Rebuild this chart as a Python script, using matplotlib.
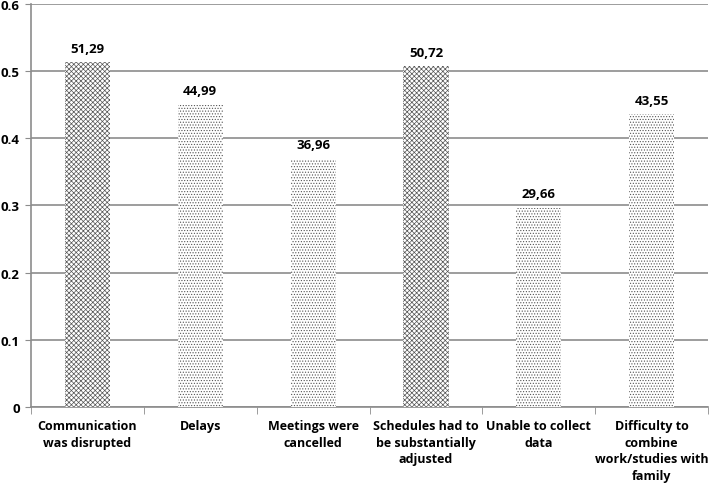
import matplotlib.pyplot as plt
import numpy as np

categories = ["Communication\nwas disrupted", "Delays", "Meetings were\ncancelled",
              "Schedules had to\nbe substantially\nadjusted", "Unable to collect\ndata",
              "Difficulty to\ncombine\nwork/studies with\nfamily"]
values = [0.5129, 0.4499, 0.3696, 0.5072, 0.2966, 0.4355]
labels = ["51,29", "44,99", "36,96", "50,72", "29,66", "43,55"]
hatches = ["xxxxxxx", "......", "......", "xxxxxxx", "......", "......"]

plt.rcParams['font.family'] = ['Open Sans', 'DejaVu Sans']
plt.rcParams['hatch.linewidth'] = 0.5

fig = plt.figure(figsize=(7.09, 4.85), dpi=100)
ax = fig.add_axes([0.0437, 0.159, 0.955, 0.831])

x = np.arange(len(categories))
bars = ax.bar(x, values, width=0.4, color='white', edgecolor='#555555', linewidth=0, zorder=3)
for b, h in zip(bars, hatches):
    b.set_hatch(h)
for xi, v, lab in zip(x, values, labels):
    ax.text(xi, v + 0.011, lab, ha='center', va='bottom', fontsize=9.5, fontweight='bold')

ax.set_xlim(-0.5, len(categories) - 0.5)
ax.set_ylim(0, 0.6)
ax.set_yticks(np.arange(0, 0.61, 0.1))
ax.set_yticklabels(["0", "0.1", "0.2", "0.3", "0.4", "0.5", "0.6"], fontsize=9.5, fontweight='bold')
ax.yaxis.grid(True, color='#8c8c8c', linewidth=1.2, zorder=0)
ax.set_axisbelow(True)

ax.set_xticks(x)
ax.set_xticklabels(categories, fontsize=9, fontweight='bold', linespacing=1.35)
ax.tick_params(axis='x', length=0, pad=9)
ax.set_xticks(np.arange(-0.5, len(categories)), minor=True)
ax.tick_params(axis='x', which='minor', length=5, color='#8c8c8c')
ax.tick_params(axis='y', length=4, color='#8c8c8c', pad=4)

for s in ['top', 'right']:
    ax.spines[s].set_visible(False)
for s in ['left', 'bottom']:
    ax.spines[s].set_color('#8c8c8c')
    ax.spines[s].set_linewidth(1.2)

fig.savefig("out.png", dpi=100)
